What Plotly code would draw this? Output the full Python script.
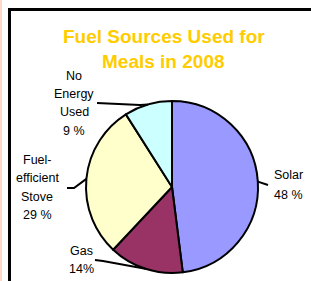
import math
import plotly.graph_objects as go

# ---- data ----
categories = ["Solar", "Gas", "Fuel-efficient Stove", "No Energy Used"]
values = [48, 14, 29, 9]
label_lines = [["Solar", "48 %"], ["Gas", "14%"], ["Fuel-", "efficient", "Stove", "29 %"], ["No", "Energy", "Used", "9 %"]]
colors = ["#9999FF", "#993366", "#FFFFCC", "#CCFFFF"]
title_lines = ["Fuel Sources Used for", "Meals in 2008"]

W, H = 311, 281
CX, CY, R = 172, 187, 86  # pie centre / radius in px


def px(x):
    return x / W


def py(y):
    return 1 - y / H


fig = go.Figure(go.Pie(
    labels=categories, values=values, sort=False, direction="clockwise", rotation=0,
    marker=dict(colors=colors, line=dict(color="black", width=2)),
    textinfo="none", hoverinfo="label+percent", showlegend=False,
    domain=dict(x=[px(CX - R), px(CX + R)], y=[py(CY + R), py(CY - R)]),
))

# label placement (layout): centre x, first-line y, line spacing, leader start, elbow
label_layout = [
    dict(cx=288, y0=175, dy=20, start=(268, 185), elbow=None),
    dict(cx=82, y0=251, dy=18, start=(95, 260), elbow=(103, 261)),
    dict(cx=37, y0=160, dy=18.4, start=(67, 188), elbow=(74, 188)),
    dict(cx=74, y0=76, dy=18.2, start=(97, 103), elbow=(140, 105)),
]

annotations = []
shapes = []
total = sum(values)
cum = 0
for v, lines, lay in zip(values, label_lines, label_layout):
    mid = (cum + v / 2) / total * 2 * math.pi
    cum += v
    ax = CX + R * math.sin(mid)
    ay = CY - R * math.cos(mid)
    for i, t in enumerate(lines):
        annotations.append(dict(x=px(lay["cx"]), y=py(lay["y0"] + i * lay["dy"]), xref="paper", yref="paper",
                                text=t, showarrow=False, xanchor="center", yanchor="middle",
                                font=dict(family="Arial, Liberation Sans", size=12.5, color="black")))
    pts = [lay["start"]] + ([lay["elbow"]] if lay["elbow"] else []) + [(ax, ay)]
    path = "M " + " L ".join(f"{px(x)},{py(y)}" for x, y in pts)
    shapes.append(dict(type="path", xref="paper", yref="paper", path=path,
                       line=dict(color="black", width=2)))

for i, t in enumerate(title_lines):
    annotations.append(dict(x=px(164), y=py(36 + i * 26), xref="paper", yref="paper", text=t,
                            showarrow=False, xanchor="center", yanchor="middle",
                            font=dict(family="Arial, Liberation Sans", size=19, color="#FFCC00", weight="bold")))

# frame
shapes += [
    dict(type="rect", xref="paper", yref="paper", x0=0, x1=px(2), y0=0, y1=1,
         fillcolor="#FDD9C9", line=dict(width=0), layer="below"),
    dict(type="line", xref="paper", yref="paper", x0=px(9.5), x1=px(9.5), y0=0, y1=py(8),
         line=dict(color="black", width=3)),
    dict(type="line", xref="paper", yref="paper", x0=px(8), x1=1, y0=py(9.5), y1=py(9.5),
         line=dict(color="black", width=3)),
]

fig.update_layout(width=W, height=H, margin=dict(l=0, r=0, t=0, b=0),
                  paper_bgcolor="white", plot_bgcolor="white",
                  annotations=annotations, shapes=shapes)

fig.write_html("out.html", config={"displayModeBar": False},
               post_script="document.body.style.margin='0';document.body.style.padding='0';"
                           "document.body.style.overflow='hidden';")
